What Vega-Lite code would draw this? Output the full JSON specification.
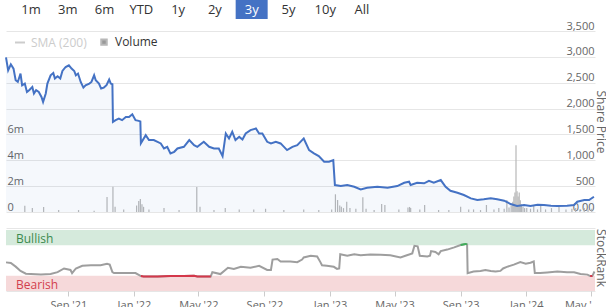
{
  "$schema": "https://vega.github.io/schema/vega-lite/v6.json",
  "padding": {"left": 2, "top": 0, "right": 0, "bottom": 0},
  "background": "white",
  "spacing": 12,
  "bounds": "flush",
  "resolve": {"scale": {"color": "independent"}, "legend": {"color": "independent"}},
  "config": {
    "font": "Open Sans",
    "view": {"stroke": null},
    "axis": {"labelFont": "Open Sans", "titleFont": "Open Sans"},
    "legend": {"labelFont": "Open Sans"}
  },
  "datasets": {
    "ranges": [
      {"label": "1m", "selected": false},
      {"label": "3m", "selected": false},
      {"label": "6m", "selected": false},
      {"label": "YTD", "selected": false},
      {"label": "1y", "selected": false},
      {"label": "2y", "selected": false},
      {"label": "3y", "selected": true},
      {"label": "5y", "selected": false},
      {"label": "10y", "selected": false},
      {"label": "All", "selected": false}
    ],
    "price": [
      {"date": "2021-05-08", "price": 2990},
      {"date": "2021-05-12", "price": 2740},
      {"date": "2021-05-17", "price": 2856},
      {"date": "2021-05-22", "price": 2773},
      {"date": "2021-05-26", "price": 2548},
      {"date": "2021-05-30", "price": 2515},
      {"date": "2021-06-04", "price": 2677},
      {"date": "2021-06-07", "price": 2451},
      {"date": "2021-06-12", "price": 2484},
      {"date": "2021-06-16", "price": 2322},
      {"date": "2021-06-20", "price": 2355},
      {"date": "2021-06-26", "price": 2418},
      {"date": "2021-06-29", "price": 2291},
      {"date": "2021-07-03", "price": 2355},
      {"date": "2021-07-08", "price": 2322},
      {"date": "2021-07-13", "price": 2225},
      {"date": "2021-07-16", "price": 2129},
      {"date": "2021-07-21", "price": 2291},
      {"date": "2021-07-24", "price": 2484},
      {"date": "2021-07-30", "price": 2644},
      {"date": "2021-08-04", "price": 2689},
      {"date": "2021-08-07", "price": 2580},
      {"date": "2021-08-12", "price": 2625},
      {"date": "2021-08-17", "price": 2580},
      {"date": "2021-08-21", "price": 2727},
      {"date": "2021-08-27", "price": 2804},
      {"date": "2021-09-02", "price": 2837},
      {"date": "2021-09-07", "price": 2773},
      {"date": "2021-09-12", "price": 2727},
      {"date": "2021-09-15", "price": 2644},
      {"date": "2021-09-19", "price": 2677},
      {"date": "2021-09-24", "price": 2515},
      {"date": "2021-09-29", "price": 2406},
      {"date": "2021-10-03", "price": 2451},
      {"date": "2021-10-10", "price": 2484},
      {"date": "2021-10-14", "price": 2515},
      {"date": "2021-10-19", "price": 2644},
      {"date": "2021-10-22", "price": 2548},
      {"date": "2021-10-28", "price": 2484},
      {"date": "2021-11-01", "price": 2387},
      {"date": "2021-11-06", "price": 2406},
      {"date": "2021-11-11", "price": 2451},
      {"date": "2021-11-16", "price": 2561},
      {"date": "2021-11-19", "price": 2484},
      {"date": "2021-11-22", "price": 2470},
      {"date": "2021-11-23", "price": 1743},
      {"date": "2021-11-28", "price": 1776},
      {"date": "2021-12-04", "price": 1808},
      {"date": "2021-12-10", "price": 1776},
      {"date": "2021-12-17", "price": 1839},
      {"date": "2021-12-23", "price": 1839},
      {"date": "2021-12-29", "price": 1891},
      {"date": "2022-01-04", "price": 1776},
      {"date": "2022-01-10", "price": 1762},
      {"date": "2022-01-13", "price": 1750},
      {"date": "2022-01-14", "price": 1330},
      {"date": "2022-01-23", "price": 1486},
      {"date": "2022-01-29", "price": 1390},
      {"date": "2022-02-07", "price": 1390},
      {"date": "2022-02-20", "price": 1326},
      {"date": "2022-02-26", "price": 1229},
      {"date": "2022-03-04", "price": 1261},
      {"date": "2022-03-10", "price": 1133},
      {"date": "2022-03-17", "price": 1164},
      {"date": "2022-03-23", "price": 1229},
      {"date": "2022-04-04", "price": 1261},
      {"date": "2022-04-14", "price": 1390},
      {"date": "2022-04-23", "price": 1293},
      {"date": "2022-04-29", "price": 1261},
      {"date": "2022-05-11", "price": 1357},
      {"date": "2022-05-21", "price": 1261},
      {"date": "2022-05-30", "price": 1229},
      {"date": "2022-06-08", "price": 1229},
      {"date": "2022-06-15", "price": 1081},
      {"date": "2022-06-21", "price": 1519},
      {"date": "2022-06-27", "price": 1422},
      {"date": "2022-07-03", "price": 1550},
      {"date": "2022-07-09", "price": 1390},
      {"date": "2022-07-16", "price": 1453},
      {"date": "2022-07-22", "price": 1403},
      {"date": "2022-07-28", "price": 1519},
      {"date": "2022-08-06", "price": 1583},
      {"date": "2022-08-16", "price": 1615},
      {"date": "2022-08-22", "price": 1519},
      {"date": "2022-08-28", "price": 1519},
      {"date": "2022-09-06", "price": 1357},
      {"date": "2022-09-13", "price": 1326},
      {"date": "2022-09-22", "price": 1357},
      {"date": "2022-10-01", "price": 1326},
      {"date": "2022-10-13", "price": 1197},
      {"date": "2022-10-23", "price": 1261},
      {"date": "2022-11-01", "price": 1293},
      {"date": "2022-11-10", "price": 1390},
      {"date": "2022-11-13", "price": 1422},
      {"date": "2022-11-23", "price": 1197},
      {"date": "2022-12-02", "price": 1133},
      {"date": "2022-12-11", "price": 1081},
      {"date": "2022-12-21", "price": 971},
      {"date": "2022-12-30", "price": 971},
      {"date": "2023-01-07", "price": 1004},
      {"date": "2023-01-10", "price": 521},
      {"date": "2023-01-21", "price": 502},
      {"date": "2023-02-02", "price": 521},
      {"date": "2023-02-15", "price": 488},
      {"date": "2023-02-27", "price": 438},
      {"date": "2023-03-11", "price": 469},
      {"date": "2023-03-30", "price": 488},
      {"date": "2023-04-18", "price": 469},
      {"date": "2023-05-06", "price": 502},
      {"date": "2023-05-19", "price": 565},
      {"date": "2023-05-28", "price": 585},
      {"date": "2023-05-31", "price": 521},
      {"date": "2023-06-12", "price": 565},
      {"date": "2023-06-25", "price": 554},
      {"date": "2023-07-04", "price": 604},
      {"date": "2023-07-13", "price": 565},
      {"date": "2023-07-26", "price": 618},
      {"date": "2023-08-04", "price": 488},
      {"date": "2023-08-13", "price": 411},
      {"date": "2023-08-26", "price": 372},
      {"date": "2023-09-07", "price": 328},
      {"date": "2023-09-20", "price": 264},
      {"date": "2023-10-02", "price": 232},
      {"date": "2023-10-14", "price": 245},
      {"date": "2023-10-27", "price": 264},
      {"date": "2023-11-08", "price": 245},
      {"date": "2023-11-21", "price": 218},
      {"date": "2023-12-03", "price": 154},
      {"date": "2023-12-15", "price": 116},
      {"date": "2023-12-28", "price": 135},
      {"date": "2024-01-09", "price": 116},
      {"date": "2024-01-22", "price": 141},
      {"date": "2024-02-03", "price": 135},
      {"date": "2024-02-16", "price": 122},
      {"date": "2024-02-28", "price": 116},
      {"date": "2024-03-17", "price": 122},
      {"date": "2024-03-30", "price": 135},
      {"date": "2024-04-05", "price": 199},
      {"date": "2024-04-18", "price": 232},
      {"date": "2024-04-27", "price": 232},
      {"date": "2024-05-06", "price": 295}
    ],
    "volume": [
      {"date": "2021-06-12", "volume": 490000},
      {"date": "2021-06-26", "volume": 300000},
      {"date": "2021-07-17", "volume": 390000},
      {"date": "2021-08-14", "volume": 150000},
      {"date": "2021-09-20", "volume": 150000},
      {"date": "2021-10-19", "volume": 100000},
      {"date": "2021-11-12", "volume": 1160000},
      {"date": "2021-11-23", "volume": 1950000},
      {"date": "2021-11-27", "volume": 400000},
      {"date": "2021-12-13", "volume": 200000},
      {"date": "2022-01-06", "volume": 500000},
      {"date": "2022-01-10", "volume": 850000},
      {"date": "2022-01-13", "volume": 1000000},
      {"date": "2022-01-16", "volume": 600000},
      {"date": "2022-01-19", "volume": 400000},
      {"date": "2022-01-29", "volume": 200000},
      {"date": "2022-02-26", "volume": 300000},
      {"date": "2022-03-26", "volume": 150000},
      {"date": "2022-04-28", "volume": 1930000},
      {"date": "2022-05-04", "volume": 400000},
      {"date": "2022-05-30", "volume": 150000},
      {"date": "2022-06-20", "volume": 300000},
      {"date": "2022-07-16", "volume": 200000},
      {"date": "2022-08-12", "volume": 200000},
      {"date": "2022-09-03", "volume": 250000},
      {"date": "2022-10-07", "volume": 150000},
      {"date": "2022-11-13", "volume": 200000},
      {"date": "2022-12-11", "volume": 150000},
      {"date": "2023-01-04", "volume": 200000},
      {"date": "2023-01-11", "volume": 1370000},
      {"date": "2023-01-15", "volume": 930000},
      {"date": "2023-01-19", "volume": 500000},
      {"date": "2023-01-22", "volume": 400000},
      {"date": "2023-01-26", "volume": 300000},
      {"date": "2023-02-01", "volume": 800000},
      {"date": "2023-02-07", "volume": 300000},
      {"date": "2023-02-18", "volume": 250000},
      {"date": "2023-03-03", "volume": 1140000},
      {"date": "2023-03-09", "volume": 250000},
      {"date": "2023-03-24", "volume": 150000},
      {"date": "2023-04-07", "volume": 620000},
      {"date": "2023-04-13", "volume": 540000},
      {"date": "2023-05-09", "volume": 200000},
      {"date": "2023-05-26", "volume": 350000},
      {"date": "2023-05-29", "volume": 390000},
      {"date": "2023-05-31", "volume": 300000},
      {"date": "2023-06-17", "volume": 200000},
      {"date": "2023-06-26", "volume": 540000},
      {"date": "2023-07-22", "volume": 150000},
      {"date": "2023-08-10", "volume": 150000},
      {"date": "2023-09-01", "volume": 410000},
      {"date": "2023-09-16", "volume": 200000},
      {"date": "2023-09-25", "volume": 200000},
      {"date": "2023-10-08", "volume": 150000},
      {"date": "2023-10-19", "volume": 540000},
      {"date": "2023-11-02", "volume": 200000},
      {"date": "2023-11-11", "volume": 300000},
      {"date": "2023-11-21", "volume": 250000},
      {"date": "2023-11-26", "volume": 930000},
      {"date": "2023-11-30", "volume": 350000},
      {"date": "2023-12-04", "volume": 500000},
      {"date": "2023-12-07", "volume": 800000},
      {"date": "2023-12-09", "volume": 1200000},
      {"date": "2023-12-11", "volume": 1500000},
      {"date": "2023-12-13", "volume": 5170000},
      {"date": "2023-12-15", "volume": 1600000},
      {"date": "2023-12-17", "volume": 1200000},
      {"date": "2023-12-19", "volume": 1500000},
      {"date": "2023-12-21", "volume": 900000},
      {"date": "2023-12-23", "volume": 600000},
      {"date": "2023-12-26", "volume": 400000},
      {"date": "2023-12-29", "volume": 300000},
      {"date": "2024-01-02", "volume": 300000},
      {"date": "2024-01-09", "volume": 250000},
      {"date": "2024-01-15", "volume": 540000},
      {"date": "2024-01-22", "volume": 200000},
      {"date": "2024-01-28", "volume": 500000},
      {"date": "2024-02-06", "volume": 200000},
      {"date": "2024-02-17", "volume": 300000},
      {"date": "2024-03-02", "volume": 390000},
      {"date": "2024-03-15", "volume": 200000},
      {"date": "2024-03-26", "volume": 250000},
      {"date": "2024-04-02", "volume": 300000},
      {"date": "2024-04-10", "volume": 200000},
      {"date": "2024-04-18", "volume": 300000},
      {"date": "2024-04-25", "volume": 200000},
      {"date": "2024-05-02", "volume": 250000}
    ],
    "zones": [
      {"zone": "Bullish", "from": 75, "to": 100},
      {"zone": "Bearish", "from": 0, "to": 25}
    ],
    "rank": [
      {"date": "2021-05-08", "rank": 47},
      {"date": "2021-05-17", "rank": 46},
      {"date": "2021-05-26", "rank": 40},
      {"date": "2021-06-04", "rank": 33},
      {"date": "2021-06-14", "rank": 28.4},
      {"date": "2021-06-23", "rank": 27.8},
      {"date": "2021-07-12", "rank": 26.9},
      {"date": "2021-07-30", "rank": 27.8},
      {"date": "2021-08-12", "rank": 30.9},
      {"date": "2021-08-24", "rank": 37},
      {"date": "2021-09-05", "rank": 34.6},
      {"date": "2021-09-08", "rank": 29.4},
      {"date": "2021-09-15", "rank": 37},
      {"date": "2021-09-27", "rank": 41.3},
      {"date": "2021-10-13", "rank": 42.3},
      {"date": "2021-10-31", "rank": 42.3},
      {"date": "2021-11-12", "rank": 44.8},
      {"date": "2021-11-17", "rank": 43.3},
      {"date": "2021-11-22", "rank": 30.9},
      {"date": "2021-11-25", "rank": 29.4},
      {"date": "2021-12-14", "rank": 29.4},
      {"date": "2022-01-04", "rank": 29.4},
      {"date": "2022-01-14", "rank": 24.5, "bearish": 24.5},
      {"date": "2022-01-19", "rank": 24, "bearish": 24},
      {"date": "2022-02-14", "rank": 24, "bearish": 24},
      {"date": "2022-03-10", "rank": 24.8, "bearish": 24.8},
      {"date": "2022-04-04", "rank": 24.6, "bearish": 24.6},
      {"date": "2022-04-23", "rank": 25, "bearish": 25},
      {"date": "2022-04-29", "rank": 24, "bearish": 24},
      {"date": "2022-05-24", "rank": 24, "bearish": 24},
      {"date": "2022-05-27", "rank": 30.9},
      {"date": "2022-06-11", "rank": 27.8},
      {"date": "2022-06-25", "rank": 38.2},
      {"date": "2022-07-06", "rank": 36.2},
      {"date": "2022-07-19", "rank": 39.7},
      {"date": "2022-08-06", "rank": 38.2},
      {"date": "2022-08-22", "rank": 41.3},
      {"date": "2022-09-06", "rank": 34.6},
      {"date": "2022-09-13", "rank": 34.6},
      {"date": "2022-09-16", "rank": 51.6},
      {"date": "2022-09-25", "rank": 52.6},
      {"date": "2022-10-01", "rank": 48.5},
      {"date": "2022-10-19", "rank": 48.5},
      {"date": "2022-11-01", "rank": 47.4},
      {"date": "2022-11-10", "rank": 51.6},
      {"date": "2022-11-13", "rank": 55},
      {"date": "2022-11-26", "rank": 57.8},
      {"date": "2022-12-08", "rank": 56.7},
      {"date": "2022-12-14", "rank": 47.4},
      {"date": "2022-12-17", "rank": 42.3},
      {"date": "2022-12-26", "rank": 41.3},
      {"date": "2023-01-08", "rank": 39.7},
      {"date": "2023-01-14", "rank": 36.2},
      {"date": "2023-01-18", "rank": 37},
      {"date": "2023-01-20", "rank": 60.3},
      {"date": "2023-02-02", "rank": 57.8},
      {"date": "2023-02-15", "rank": 60.3},
      {"date": "2023-02-27", "rank": 58.7},
      {"date": "2023-03-17", "rank": 59.8},
      {"date": "2023-04-05", "rank": 59.4},
      {"date": "2023-04-23", "rank": 58.7},
      {"date": "2023-05-12", "rank": 55.2},
      {"date": "2023-05-24", "rank": 58.7},
      {"date": "2023-06-03", "rank": 61.8},
      {"date": "2023-06-07", "rank": 74.2},
      {"date": "2023-06-13", "rank": 73.3},
      {"date": "2023-06-17", "rank": 57.8},
      {"date": "2023-07-01", "rank": 56.7},
      {"date": "2023-07-06", "rank": 57.8},
      {"date": "2023-07-08", "rank": 65.5},
      {"date": "2023-07-16", "rank": 64},
      {"date": "2023-07-22", "rank": 60.3},
      {"date": "2023-07-26", "rank": 65.5},
      {"date": "2023-08-07", "rank": 68},
      {"date": "2023-08-20", "rank": 71.7},
      {"date": "2023-09-01", "rank": 75.5, "bullish": 75.5},
      {"date": "2023-09-10", "rank": 77.3, "bullish": 77.3},
      {"date": "2023-09-13", "rank": 76.5, "bullish": 76.5},
      {"date": "2023-09-14", "rank": 29.4},
      {"date": "2023-09-25", "rank": 32},
      {"date": "2023-10-08", "rank": 33},
      {"date": "2023-10-17", "rank": 34.6},
      {"date": "2023-10-27", "rank": 33},
      {"date": "2023-11-05", "rank": 32},
      {"date": "2023-11-14", "rank": 33},
      {"date": "2023-11-19", "rank": 37},
      {"date": "2023-11-26", "rank": 39.7},
      {"date": "2023-12-09", "rank": 43.3},
      {"date": "2023-12-21", "rank": 47.4},
      {"date": "2023-12-31", "rank": 44.8},
      {"date": "2024-01-09", "rank": 46.4},
      {"date": "2024-01-15", "rank": 48.5},
      {"date": "2024-01-17", "rank": 29.4},
      {"date": "2024-01-27", "rank": 29.4},
      {"date": "2024-02-09", "rank": 30.4},
      {"date": "2024-02-28", "rank": 32},
      {"date": "2024-03-17", "rank": 30.9},
      {"date": "2024-03-30", "rank": 30.9},
      {"date": "2024-04-11", "rank": 27.8},
      {"date": "2024-04-24", "rank": 26.9},
      {"date": "2024-04-29", "rank": 24.5, "bearish": 24.5},
      {"date": "2024-05-03", "rank": 24.5, "bearish": 24.5},
      {"date": "2024-05-07", "rank": 32}
    ]
  },
  "vconcat": [
    {
      "width": 381,
      "height": 19,
      "data": {"name": "ranges"},
      "encoding": {
        "x": {"field": "label", "type": "nominal", "sort": null, "scale": {"type": "point", "padding": 0.68, "domain": ["1m", "3m", "6m", "YTD", "1y", "2y", "3y", "5y", "10y", "All"]}, "axis": null}
      },
      "layer": [
        {
          "transform": [{"filter": "datum.selected"}],
          "mark": {"type": "bar", "width": 32, "color": "#4472c4"}
        },
        {
          "mark": {"type": "text", "fontSize": 13, "baseline": "middle", "font": "Open Sans"},
          "encoding": {
            "text": {"field": "label"},
            "color": {"condition": {"test": "datum.selected", "value": "#ffffff"}, "value": "#333333"}
          }
        }
      ]
    },
    {
      "width": 589,
      "height": 181,
      "layer": [
        {
          "data": {"name": "volume"},
          "mark": {"type": "rule", "strokeWidth": 1.2},
          "encoding": {
            "x": {"field": "date", "type": "temporal", "scale": {"type": "utc", "domain": [{"year": 2021, "month": 5, "date": 8, "utc": true}, {"year": 2024, "month": 5, "date": 8, "utc": true}]}, "axis": null},
            "y": {"field": "volume", "type": "quantitative", "scale": {"domain": [0, 14000000]},
              "axis": {"orient": "left", "values": [0, 2000000, 4000000, 6000000], "labelExpr": "datum.value === 0 ? '0' : (datum.value / 1000000) + 'm'", "grid": false, "ticks": false, "tickSize": 0, "domain": false, "title": null, "labelAlign": "left", "labelPadding": -1, "labelBaseline": "alphabetic", "labelOffset": -2, "labelFontSize": 11, "labelColor": "#666666"}},
            "y2": {"datum": 0},
            "color": {"datum": "Volume", "type": "nominal",
              "scale": {"domain": ["SMA (200)", "Volume"], "range": ["#cccccc", "#b8b8b8"]},
              "legend": {
                "orient": "none", "legendX": 8, "legendY": 5, "direction": "horizontal", "title": null,
                "labelFontSize": 12, "labelColor": "#333333", "columnPadding": 10, "labelOffset": 5,
                "encode": {
                  "symbols": {"update": {
                    "shape": {"signal": "datum.value === 'SMA (200)' ? 'stroke' : 'square'"},
                    "size": {"signal": "datum.value === 'SMA (200)' ? 100 : 30"},
                    "fill": {"signal": "datum.value === 'SMA (200)' ? 'transparent' : '#999999'"},
                    "stroke": {"signal": "datum.value === 'SMA (200)' ? '#cccccc' : 'transparent'"},
                    "strokeWidth": {"value": 2}
                  }},
                  "labels": {"update": {
                    "fill": {"signal": "datum.value === 'SMA (200)' ? '#cccccc' : '#333333'"}
                  }}
                }
              }
            }
          }
        },
        {
          "data": {"name": "price"},
          "mark": {"type": "area", "color": "#4472c4", "opacity": 0.05},
          "encoding": {
            "x": {"field": "date", "type": "temporal", "scale": {"type": "utc", "domain": [{"year": 2021, "month": 5, "date": 8, "utc": true}, {"year": 2024, "month": 5, "date": 8, "utc": true}]}, "axis": null},
            "y": {"field": "price", "type": "quantitative", "scale": {"domain": [0, 3500]},
              "axis": {"orient": "right", "values": [0, 500, 1000, 1500, 2000, 2500, 3000, 3500], "labelExpr": "datum.value === 0 ? '0.00' : format(datum.value, ',')", "grid": true, "gridColor": "#e6e6e6", "ticks": false, "tickSize": 0, "domain": false, "title": "Share Price", "titleColor": "#666666", "titleFontSize": 12, "titleFontWeight": "normal", "titlePadding": -2, "labelAlign": "right", "labelPadding": -1, "labelBaseline": "alphabetic", "labelOffset": -2, "labelFontSize": 11, "labelColor": "#666666"}}
          }
        },
        {
          "data": {"name": "price"},
          "mark": {"type": "line", "color": "#4472c4", "strokeWidth": 2},
          "encoding": {
            "x": {"field": "date", "type": "temporal", "scale": {"type": "utc", "domain": [{"year": 2021, "month": 5, "date": 8, "utc": true}, {"year": 2024, "month": 5, "date": 8, "utc": true}]}, "axis": null},
            "y": {"field": "price", "type": "quantitative", "scale": {"domain": [0, 3500]}, "axis": null}
          }
        }
      ],
      "resolve": {"scale": {"y": "independent"}}
    },
    {
      "width": 589,
      "height": 67,
      "layer": [
        {
          "data": {"name": "zones"},
          "mark": {"type": "rect"},
          "encoding": {
            "y": {"field": "from", "type": "quantitative", "title": "StockRank", "scale": {"domain": [0, 103]},
              "axis": {"orient": "right", "values": [0, 103], "labelExpr": "datum.value === 0 ? '0' : ''", "grid": true, "gridColor": "#e6e6e6", "ticks": false, "tickSize": 0, "domain": false, "titleColor": "#666666", "titleFontSize": 12, "titleFontWeight": "normal", "titlePadding": -2, "labelAlign": "right", "labelPadding": -2, "labelBaseline": "alphabetic", "labelOffset": -2, "labelFontSize": 12, "labelColor": "#555555"}},
            "y2": {"field": "to"},
            "color": {"field": "zone", "type": "nominal", "scale": {"domain": ["Bullish", "Bearish"], "range": ["#d5eadc", "#f6d9da"]}, "legend": null}
          }
        },
        {
          "data": {"name": "zones"},
          "mark": {"type": "text", "align": "left", "baseline": "alphabetic", "dx": 10, "dy": -2, "fontSize": 12, "font": "Open Sans"},
          "encoding": {
            "x": {"datum": {"year": 2021, "month": 5, "date": 8, "utc": true}, "type": "temporal"},
            "y": {"field": "from", "type": "quantitative", "title": "StockRank"},
            "text": {"field": "zone"},
            "color": {"condition": {"test": "datum.zone === 'Bullish'", "value": "#3b8a4e"}, "value": "#d2404e"}
          }
        },
        {
          "data": {"name": "rank"},
          "mark": {"type": "line", "color": "#9e9e9e", "strokeWidth": 2},
          "encoding": {
            "x": {"field": "date", "type": "temporal", "title": null, "scale": {"type": "utc", "domain": [{"year": 2021, "month": 5, "date": 8, "utc": true}, {"year": 2024, "month": 5, "date": 8, "utc": true}]},
              "axis": {"values": [{"year": 2021, "month": 9, "date": 1, "utc": true}, {"year": 2022, "month": 1, "date": 1, "utc": true}, {"year": 2022, "month": 5, "date": 1, "utc": true}, {"year": 2022, "month": 9, "date": 1, "utc": true}, {"year": 2023, "month": 1, "date": 1, "utc": true}, {"year": 2023, "month": 5, "date": 1, "utc": true}, {"year": 2023, "month": 9, "date": 1, "utc": true}, {"year": 2024, "month": 1, "date": 1, "utc": true}, {"year": 2024, "month": 5, "date": 1, "utc": true}],
                "labelExpr": "(utcyear(datum.value) == 2024 && utcmonth(datum.value) == 4) ? \"May '\" : utcFormat(datum.value, \"%b '%y\")",
                "labelAlign": {"condition": {"test": "utcyear(datum.value) == 2024 && utcmonth(datum.value) == 4", "value": "right"}, "value": "center"},
                "grid": false, "domain": false, "tickColor": "#cccccc", "tickSize": 5, "labelPadding": 3, "labelFontSize": 11, "labelColor": "#666666", "title": null}},
            "y": {"field": "rank", "type": "quantitative", "title": "StockRank"}
          }
        },
        {
          "data": {"name": "rank"},
          "mark": {"type": "line", "color": "#d4374a", "strokeWidth": 2, "invalid": "break-paths-filter-domains"},
          "encoding": {
            "x": {"field": "date", "type": "temporal", "title": null},
            "y": {"field": "bearish", "type": "quantitative", "title": "StockRank"}
          }
        },
        {
          "data": {"name": "rank"},
          "mark": {"type": "line", "color": "#3fae5a", "strokeWidth": 2, "invalid": "break-paths-filter-domains"},
          "encoding": {
            "x": {"field": "date", "type": "temporal", "title": null},
            "y": {"field": "bullish", "type": "quantitative", "title": "StockRank"}
          }
        }
      ]
    }
  ]
}
